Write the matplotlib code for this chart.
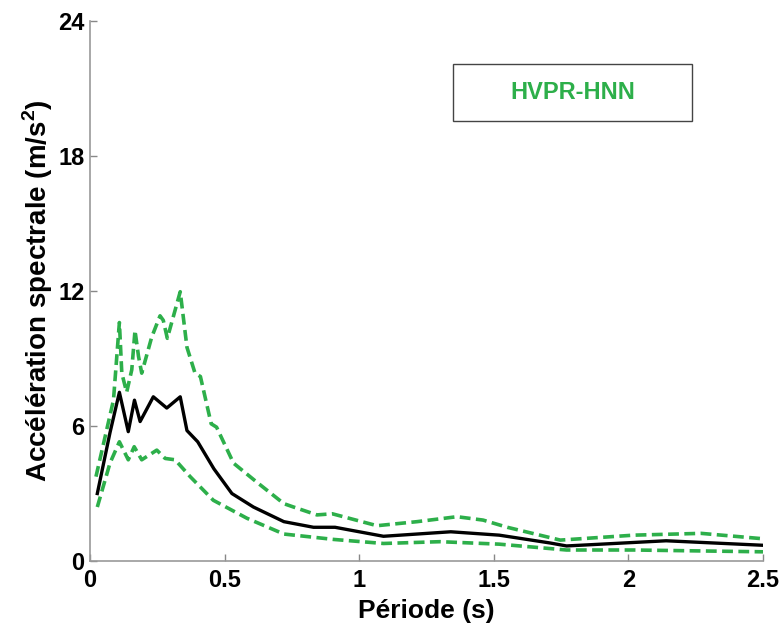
import matplotlib
matplotlib.use("Agg")
import matplotlib.pyplot as plt
from matplotlib.patches import Rectangle

plt.rcParams['font.family'] = ['Liberation Sans', 'DejaVu Sans']
plt.rcParams['mathtext.fontset'] = 'custom'
plt.rcParams['mathtext.rm'] = 'Liberation Sans'
plt.rcParams['mathtext.bf'] = 'Liberation Sans:bold'

# Mean spectrum (black)
mean_x = [0.027, 0.074, 0.109, 0.142, 0.165, 0.186, 0.235, 0.285, 0.335, 0.36, 0.40, 0.46, 0.527,
          0.607, 0.72, 0.83, 0.91, 1.09, 1.34, 1.46, 1.52, 1.71, 1.77, 2.14, 2.5]
mean_y = [3.0, 5.7, 7.5, 5.75, 7.15, 6.2, 7.3, 6.8, 7.3, 5.8, 5.3, 4.1, 3.0,
          2.4, 1.75, 1.5, 1.5, 1.1, 1.3, 1.2, 1.15, 0.8, 0.67, 0.9, 0.7]

# Upper bound (green dashed)
up_x = [0.022, 0.087, 0.109, 0.118, 0.136, 0.155, 0.167, 0.18, 0.192, 0.229, 0.26, 0.272, 0.287,
        0.335, 0.36, 0.39, 0.41, 0.45, 0.47, 0.533, 0.62, 0.72, 0.756, 0.843, 0.90, 1.066,
        1.215, 1.363, 1.46, 1.55, 1.747, 2.02, 2.27, 2.49]
up_y = [3.75, 7.15, 10.6, 8.35, 7.5, 8.5, 10.25, 9.1, 8.35, 9.95, 10.9, 10.7, 9.9,
        11.97, 9.5, 8.35, 8.2, 6.1, 5.95, 4.35, 3.5, 2.55, 2.4, 2.05, 2.1, 1.57,
        1.75, 1.97, 1.82, 1.5, 0.93, 1.15, 1.23, 1.0]

# Lower bound (green dashed)
lo_x = [0.027, 0.074, 0.109, 0.142, 0.164, 0.192, 0.248, 0.279, 0.316, 0.372, 0.458, 0.583,
        0.72, 0.905, 1.09, 1.30, 1.46, 1.52, 1.77, 2.02, 2.5]
lo_y = [2.4, 4.35, 5.3, 4.5, 5.08, 4.5, 4.93, 4.56, 4.5, 3.75, 2.7, 1.9,
        1.2, 0.96, 0.78, 0.86, 0.78, 0.75, 0.49, 0.49, 0.41]

x_ticks = [0, 0.5, 1, 1.5, 2, 2.5]
x_labels = ["0", "0.5", "1", "1.5", "2", "2.5"]
y_ticks = [0, 6, 12, 18, 24]
y_labels = ["0", "6", "12", "18", "24"]

green = "#2DAF4A"

fig = plt.figure(figsize=(7.83, 6.33), dpi=100)
ax = fig.add_axes([0.115, 0.1137, 0.8595, 0.853])

ax.plot(up_x, up_y, color=green, lw=2.6, ls=(0, (3, 1.5)))
ax.plot(lo_x, lo_y, color=green, lw=2.6, ls=(0, (3, 1.5)))
ax.plot(mean_x, mean_y, color="black", lw=2.4)

ax.set_xlim(0, 2.5)
ax.set_ylim(0, 24)
ax.set_xticks(x_ticks)
ax.set_xticklabels(x_labels)
ax.set_yticks(y_ticks)
ax.set_yticklabels(y_labels)
for lbl in ax.get_xticklabels() + ax.get_yticklabels():
    lbl.set_fontweight("bold")
    lbl.set_fontsize(17)
ax.tick_params(direction="in", length=5, color="#888888", width=1)
ax.tick_params(axis="x", pad=6)
ax.tick_params(axis="y", pad=4)
for s in ["top", "right"]:
    ax.spines[s].set_visible(False)
for s in ["left", "bottom"]:
    ax.spines[s].set_color("#999999")
    ax.spines[s].set_linewidth(1.2)

ax.set_xlabel("Période (s)", fontsize=19, fontweight="bold", labelpad=5)
ax.set_ylabel("Accélération spectrale (m/s$^{\\mathbf{2}}$)", fontsize=20, fontweight="bold", labelpad=2)

ax.add_patch(Rectangle((0.539, 0.815), 0.3555, 0.105, transform=ax.transAxes,
                       facecolor="white", edgecolor="#444444", lw=1.0))
ax.text(0.7168, 0.8675, "HVPR-HNN", transform=ax.transAxes, color=green,
        fontsize=17, fontweight="bold", ha="center", va="center")

fig.savefig("out.png", dpi=100)
